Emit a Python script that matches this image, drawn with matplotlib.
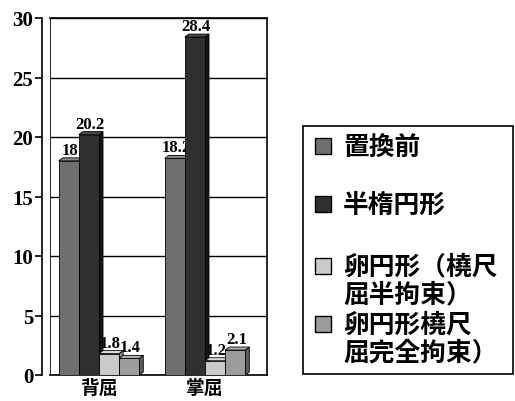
import numpy as np
import matplotlib
matplotlib.use("Agg")
import matplotlib.pyplot as plt
from matplotlib.patches import Polygon, Rectangle

# 数据
categories = ["背屈", "掌屈"]
series_names = ["置換前", "半楕円形", "卵円形（橈尺\n屈半拘束）", "卵円形橈尺\n屈完全拘束）"]
values = [
    [18.0, 18.2],   # 置換前
    [20.2, 28.4],   # 半楕円形
    [1.8, 1.2],     # 卵円形（橈尺屈半拘束）
    [1.4, 2.1],     # 卵円形橈尺屈完全拘束）
]
y_ticks = [0, 5, 10, 15, 20, 25, 30]

front_colors = ["#6f6f6f", "#2f2f2f", "#cacaca", "#9c9c9c"]
side_colors = ["#3c3c3c", "#161616", "#8c8c8c", "#5c5c5c"]
top_colors = ["#8a8a8a", "#4a4a4a", "#dedede", "#b4b4b4"]

CJK = ["Noto Sans CJK JP", "DejaVu Sans"]
NUM = "Liberation Serif"

W, H = 515, 402
fig = plt.figure(figsize=(W / 100, H / 100), dpi=100)
ax = fig.add_axes([50 / W, 1 - 376 / H, 217 / W, 357 / H])
# set_position 会重置刻度，先调
ax.spines["left"].set_position(("outward", 6))

bar_w = 0.19
dx, dy = 0.038, 0.25
x = np.arange(len(categories))
offsets = (np.arange(len(series_names)) - 1.5) * bar_w

for gi in range(len(categories)):
    for si in range(len(series_names)):
        h = values[si][gi]
        x0 = x[gi] + offsets[si] - bar_w / 2
        x1 = x0 + bar_w
        z = 3 + si * 0.1
        ax.add_patch(Polygon([(x1, 0), (x1 + dx, dy), (x1 + dx, h + dy), (x1, h)],
                             closed=True, facecolor=side_colors[si], edgecolor="black",
                             linewidth=0.6, zorder=z))
        ax.add_patch(Polygon([(x0, h), (x0 + dx, h + dy), (x1 + dx, h + dy), (x1, h)],
                             closed=True, facecolor=top_colors[si], edgecolor="black",
                             linewidth=0.6, zorder=z))
        ax.bar(x0, h, width=bar_w, align="edge", color=front_colors[si],
               edgecolor="black", linewidth=0.6, zorder=z)
        ax.text(x0 + bar_w / 2 + 0.01, h + dy, f"{h:g}", ha="center", va="bottom",
                fontsize=12, fontweight="bold", family=NUM, zorder=2.5)

ax.set_xlim(-0.462, 1.585)
ax.set_ylim(0, 30)
ax.set_yticks(y_ticks)
ax.set_yticklabels([str(t) for t in y_ticks], fontsize=15, fontweight="bold", family=NUM)
ax.yaxis.grid(True, color="black", linewidth=1.0, zorder=1)
ax.set_axisbelow(True)
ax.set_xticks(x)
ax.set_xticklabels(categories, fontsize=13.5, fontweight="bold", family=CJK)
ax.tick_params(axis="x", length=0, pad=2)
ax.tick_params(axis="y", length=5, width=1.2, pad=1, direction="out")

for s in ax.spines.values():
    s.set_linewidth(1.2)
ax.axvline(-0.462, color="black", linewidth=1.2, zorder=1)

# 图例
fig.patches.append(Rectangle((303 / W, 1 - 375 / H), 210 / W, 248 / H,
                             transform=fig.transFigure, facecolor="white",
                             edgecolor="black", linewidth=1.2))
legend_rows = [147, 205, 267, 325]
line_gap = 28
for si, name in enumerate(series_names):
    yc = legend_rows[si]
    fig.patches.append(Rectangle((315 / W, 1 - (yc + 8) / H), 16 / W, 16 / H,
                                 transform=fig.transFigure, facecolor=front_colors[si],
                                 edgecolor="black", linewidth=1.0))
    for li, line in enumerate(name.split("\n")):
        fig.text(343 / W, 1 - (yc + li * line_gap) / H, line, ha="left", va="center",
                 fontsize=18.5, fontweight="bold", family=CJK)

fig.savefig("out.png", dpi=100)
